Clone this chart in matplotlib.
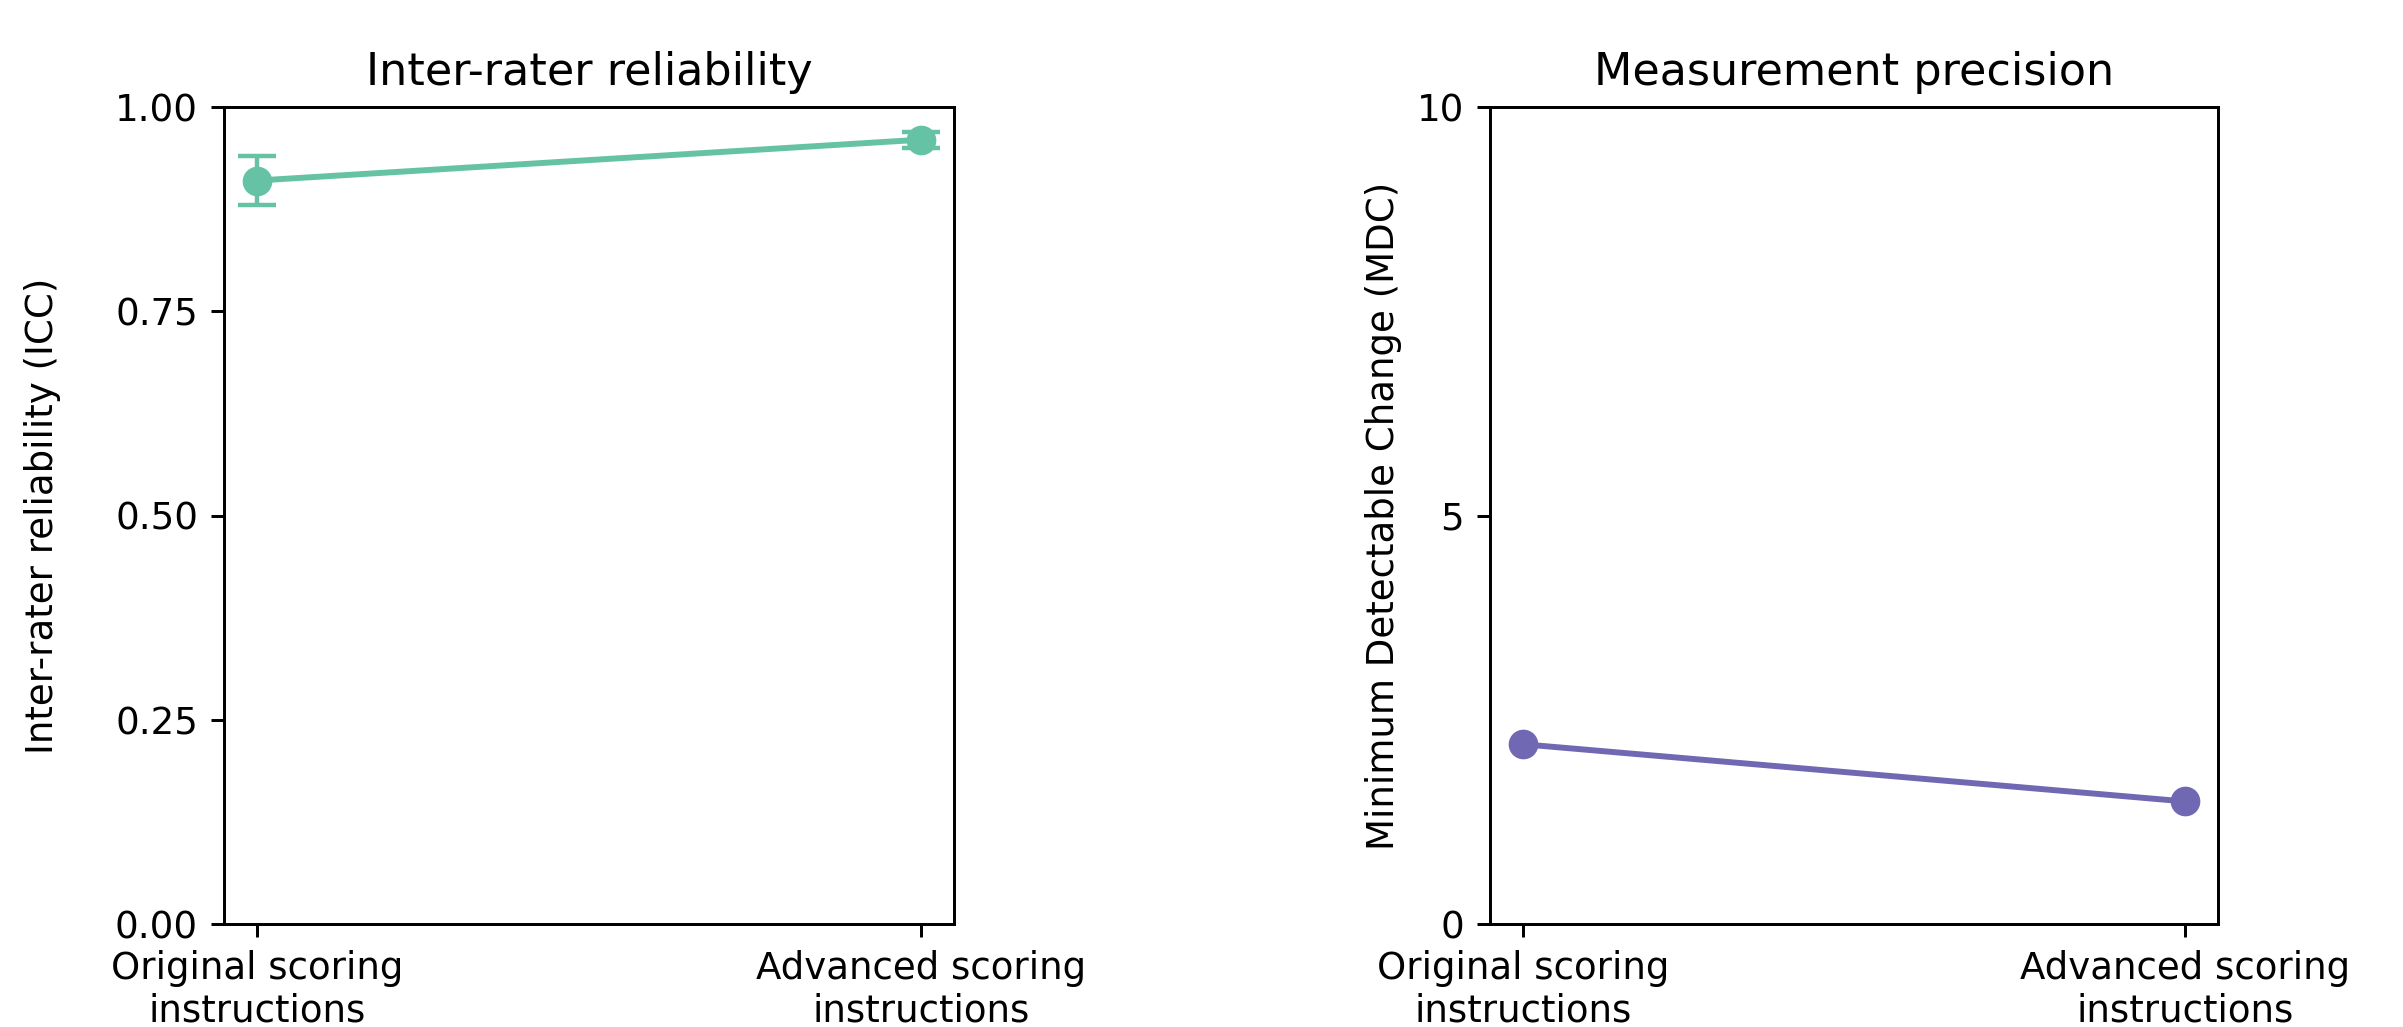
import matplotlib
matplotlib.use("Agg")
import matplotlib.pyplot as plt

categories = ["Original scoring\ninstructions", "Advanced scoring\ninstructions"]
icc_values = [0.91, 0.96]
icc_lower = [0.88, 0.95]
icc_upper = [0.94, 0.97]
mdc_values = [2.2, 1.5]
icc_ticks = [0.0, 0.25, 0.5, 0.75, 1.0]
mdc_ticks = [0, 5, 10]

green = "#66c2a5"
purple = "#7068b2"

DPI = 267
fig = plt.figure(figsize=(2403/DPI, 1027/DPI), dpi=DPI)
ax1 = fig.add_axes([224/2403, 1-924/1027, (954-224)/2403, (924-107)/1027])
ax2 = fig.add_axes([1490/2403, 1-924/1027, (2218-1490)/2403, (924-107)/1027])

x = list(range(len(categories)))
yerr = [[v - lo for v, lo in zip(icc_values, icc_lower)],
        [hi - v for v, hi in zip(icc_values, icc_upper)]]
ax1.errorbar(x, icc_values, yerr=yerr, color=green, marker="o", markersize=7,
             linewidth=1.6, capsize=5, elinewidth=1.2, capthick=1.2)
ax1.set_ylim(0, 1)
ax1.set_yticks(icc_ticks)
ax1.set_yticklabels([f"{t:.2f}" for t in icc_ticks])
ax1.set_xticks(x)
ax1.set_xticklabels(categories)
ax1.set_ylabel("Inter-rater reliability (ICC)", labelpad=14.5)
ax1.set_title("Inter-rater reliability")

ax2.plot(x, mdc_values, color=purple, marker="o", markersize=7, linewidth=1.6)
ax2.set_ylim(0, 10)
ax2.set_yticks(mdc_ticks)
ax2.set_xticks(x)
ax2.set_xticklabels(categories)
ax2.set_ylabel("Minimum Detectable Change (MDC)")
ax2.set_title("Measurement precision")

fig.savefig("out.png", dpi=DPI)
